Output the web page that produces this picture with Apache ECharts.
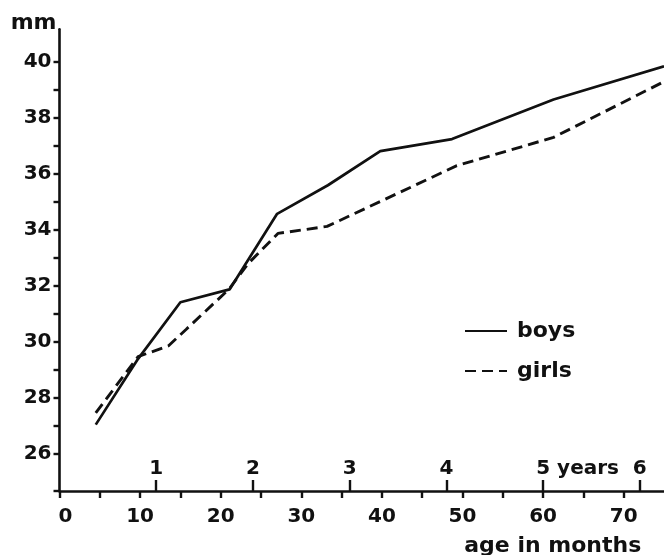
<!DOCTYPE html>
<html>
<head>
<meta charset="utf-8">
<script src="https://cdn.jsdelivr.net/npm/echarts@6/dist/echarts.min.js"></script>
<style>
  html, body { margin: 0; padding: 0; background: #ffffff; }
  #chart { width: 664px; height: 555px; }
</style>
</head>
<body>
<div id="chart"></div>
<script>
// Head measurement (mm) against age in months, boys vs girls
const boysMonths = [4.5, 9.75, 15, 21.1, 27, 33.3, 39.8, 48.7, 61.3, 75];
const boysMm     = [27.05, 29.4, 31.42, 31.88, 34.58, 35.6, 36.82, 37.25, 38.66, 39.85];

const girlsMonths = [4.5, 9.75, 13.5, 15.7, 21, 23.4, 27.1, 33.2, 49.3, 61.3, 75];
const girlsMm     = [27.47, 29.48, 29.86, 30.45, 31.88, 32.8, 33.88, 34.13, 36.3, 37.31, 39.3];

// Axis ticks and labels
const monthTicks  = [0, 5, 10, 15, 20, 25, 30, 35, 40, 45, 50, 55, 60, 65, 70];
const monthLabels = [0, 10, 20, 30, 40, 50, 60, 70];
const yearTicks   = [12, 24, 36, 48, 60, 72];
const yearLabels  = ['1', '2', '3', '4', '5', '6'];
const mmTicks     = [26, 27, 28, 29, 30, 31, 32, 33, 34, 35, 36, 37, 38, 39, 40];
const mmLabels    = [26, 28, 30, 32, 34, 36, 38, 40];

const X_MIN = 0, X_MAX = 75;
const Y_MIN = 24.68, Y_MAX = 41.17;

const INK = '#111111';
const FONT = 'DejaVu Sans';

const pair = (xs, ys) => xs.map((x, i) => [x, ys[i]]);

const chart = echarts.init(document.getElementById('chart'), null, { renderer: 'canvas' });

chart.setOption({
  backgroundColor: '#ffffff',
  animation: false,
  grid: {
    left: 59.5, right: 0, top: 29.3, bottom: 64,
    containLabel: false, outerBoundsMode: 'none'
  },
  legend: {
    orient: 'vertical',
    left: 459,
    top: 314,
    itemWidth: 42,
    itemHeight: 14,
    itemGap: 16,
    data: ['boys', 'girls'],
    itemStyle: { opacity: 0 },
    textStyle: {
      fontFamily: FONT, fontWeight: 'bold', fontSize: 22, color: INK,
      lineHeight: 24, padding: [0, 0, 0, 5]
    }
  },
  xAxis: [
    {
      type: 'value',
      min: X_MIN, max: X_MAX,
      position: 'bottom',
      splitLine: { show: false },
      axisLine: { show: true, lineStyle: { color: INK, width: 2.6 } },
      axisTick: {
        show: true, inside: false, length: 7,
        customValues: monthTicks,
        lineStyle: { color: INK, width: 2.4 }
      },
      axisLabel: {
        show: true, margin: 16,
        customValues: monthLabels,
        fontFamily: FONT, fontWeight: 'bold', fontSize: 20, color: INK,
        formatter: v => (v === 0 ? '{z|0}' : String(v)),
        rich: { z: { fontFamily: FONT, fontWeight: 'bold', fontSize: 20, color: INK, padding: [0, 0, 0, 12] } }
      },
      name: 'age in months',
      nameLocation: 'middle',
      nameGap: 44,
      nameTextStyle: {
        fontFamily: FONT, fontWeight: 'bold', fontSize: 22, color: INK,
        lineHeight: 22, padding: [0, 0, 0, 382]
      }
    },
    {
      // year markers above the month axis
      type: 'value',
      min: X_MIN, max: X_MAX,
      position: 'bottom',
      splitLine: { show: false },
      axisLine: { show: false },
      axisTick: {
        show: true, inside: true, length: 11,
        customValues: yearTicks,
        lineStyle: { color: INK, width: 2.4 }
      },
      axisLabel: {
        show: true, inside: true, margin: 12,
        customValues: yearTicks,
        fontFamily: FONT, fontWeight: 'bold', fontSize: 20, color: INK,
        formatter: v => {
          const label = yearLabels[yearTicks.indexOf(v)];
          return v === 60 ? '{p|}{n|' + label + '}{w| years}' : label;
        },
        rich: {
          p: { width: 69 },
          n: { fontFamily: FONT, fontWeight: 'bold', fontSize: 20, color: INK },
          w: { fontFamily: FONT, fontWeight: 'bold', fontSize: 20, color: INK, width: 69, align: 'left' }
        }
      }
    }
  ],
  yAxis: {
    type: 'value',
    min: Y_MIN, max: Y_MAX,
    splitLine: { show: false },
    axisLine: { show: true, lineStyle: { color: INK, width: 2.6 } },
    axisTick: {
      show: true, inside: false, length: 6,
      customValues: [Y_MIN].concat(mmTicks),
      lineStyle: { color: INK, width: 2.4 }
    },
    axisLabel: {
      show: true, margin: 8,
      customValues: mmLabels,
      fontFamily: FONT, fontWeight: 'bold', fontSize: 20, color: INK
    },
    name: 'mm',
    nameLocation: 'end',
    nameGap: 6,
    nameTextStyle: {
      fontFamily: FONT, fontWeight: 'bold', fontSize: 22, color: INK,
      align: 'right', verticalAlign: 'middle', padding: [0, 3, 0, 0]
    }
  },
  series: [
    {
      name: 'boys',
      type: 'line',
      xAxisIndex: 0,
      symbol: 'none',
      data: pair(boysMonths, boysMm),
      lineStyle: { color: INK, width: 2.7, type: 'solid' },
      itemStyle: { color: INK }
    },
    {
      name: 'girls',
      type: 'line',
      xAxisIndex: 0,
      symbol: 'none',
      data: pair(girlsMonths, girlsMm),
      lineStyle: { color: INK, width: 2.9, type: [11, 6] },
      itemStyle: { color: INK }
    }
  ]
});
</script>
</body>
</html>
